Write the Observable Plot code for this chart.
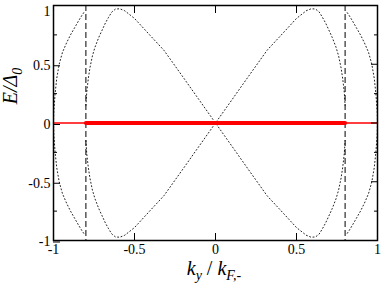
<!DOCTYPE html>
<html><head><meta charset="utf-8">
<script src="https://cdn.jsdelivr.net/npm/d3@7"></script>
<script src="https://cdn.jsdelivr.net/npm/@observablehq/plot@0.6"></script>
<style>body{margin:0;background:#fff}#chart{width:382px;height:285px}
#chart svg text{font-family:"Liberation Serif","Times New Roman","DejaVu Serif",serif}</style>
</head><body><div id="chart"></div><script>
// tick values
const xTicks = [-1, -0.5, 0, 0.5, 1];
const yTicks = [-1, -0.5, 0, 0.5];
const yTopTick = [1];
const yAllTicks = [-1, -0.5, 0, 0.5, 1];
const yMinorTicks = [-0.75, -0.25, 0.25, 0.75];
// dashed verticals
const dashedX = [-0.8, 0.8];
// red zero-energy lines
const redThinX = [-1, 1];
const redThinY = [0, 0];
const redThickX = [-0.8, 0.8];
const redThickY = [0, 0];
// dotted branches
const leftUpperX = [-1, -0.998, -0.99, -0.98, -0.965, -0.945, -0.92, -0.895, -0.87, -0.845, -0.825, -0.808];
const leftUpperY = [0, 0.1, 0.25, 0.38, 0.5, 0.6, 0.68, 0.75, 0.81, 0.87, 0.915, 0.95];
const leftLowerX = [-1, -0.998, -0.99, -0.98, -0.965, -0.945, -0.92, -0.895, -0.87, -0.845, -0.825, -0.808];
const leftLowerY = [0, -0.1, -0.25, -0.38, -0.5, -0.6, -0.68, -0.75, -0.81, -0.87, -0.915, -0.95];
const rightUpperX = [1, 0.998, 0.99, 0.98, 0.965, 0.945, 0.92, 0.895, 0.87, 0.845, 0.825, 0.808];
const rightUpperY = [0, 0.1, 0.25, 0.38, 0.5, 0.6, 0.68, 0.75, 0.81, 0.87, 0.915, 0.95];
const rightLowerX = [1, 0.998, 0.99, 0.98, 0.965, 0.945, 0.92, 0.895, 0.87, 0.845, 0.825, 0.808];
const rightLowerY = [0, -0.1, -0.25, -0.38, -0.5, -0.6, -0.68, -0.75, -0.81, -0.87, -0.915, -0.95];
const branchAX = [-0.8, -0.795, -0.785, -0.775, -0.76, -0.744, -0.72, -0.7, -0.68, -0.66, -0.64, -0.617, -0.59, -0.56, -0.5, -0.4, -0.319, -0.2, -0.113, 0,
                  0.113, 0.2, 0.319, 0.4, 0.5, 0.56, 0.59, 0.617, 0.64, 0.66, 0.68, 0.7, 0.72, 0.744, 0.76, 0.775, 0.785, 0.795, 0.8];
const branchAY = [0.15, 0.26, 0.38, 0.47, 0.57, 0.645, 0.73, 0.79, 0.85, 0.9, 0.945, 0.97, 0.972, 0.955, 0.89, 0.74, 0.62, 0.39, 0.22, 0,
                  -0.22, -0.39, -0.62, -0.74, -0.89, -0.955, -0.972, -0.97, -0.945, -0.9, -0.85, -0.79, -0.73, -0.645, -0.57, -0.47, -0.38, -0.26, -0.15];
const branchBX = [-0.8, -0.795, -0.785, -0.775, -0.76, -0.744, -0.72, -0.7, -0.68, -0.66, -0.64, -0.617, -0.59, -0.56, -0.5, -0.4, -0.319, -0.2, -0.113, 0,
                  0.113, 0.2, 0.319, 0.4, 0.5, 0.56, 0.59, 0.617, 0.64, 0.66, 0.68, 0.7, 0.72, 0.744, 0.76, 0.775, 0.785, 0.795, 0.8];
const branchBY = [-0.15, -0.26, -0.38, -0.47, -0.57, -0.645, -0.73, -0.79, -0.85, -0.9, -0.945, -0.97, -0.972, -0.955, -0.89, -0.74, -0.62, -0.39, -0.22, 0,
                  0.22, 0.39, 0.62, 0.74, 0.89, 0.955, 0.972, 0.97, 0.945, 0.9, 0.85, 0.79, 0.73, 0.645, 0.57, 0.47, 0.38, 0.26, 0.15];

const toRows = (xs, ys) => xs.map((x, i) => ({x, y: ys[i]}));
const curves = [
  toRows(leftUpperX, leftUpperY), toRows(leftLowerX, leftLowerY),
  toRows(rightUpperX, rightUpperY), toRows(rightLowerX, rightLowerY),
  toRows(branchAX, branchAY), toRows(branchBX, branchBY)
];
const fmt = d => String(d);
const serif = "'Liberation Serif', 'Times New Roman', 'DejaVu Serif', serif";

const plot = Plot.plot({
  width: 382, height: 285,
  marginLeft: 53, marginRight: 5, marginTop: 5, marginBottom: 45,
  x: {domain: [-1, 1]},
  y: {domain: [-1, 1]},
  style: {fontFamily: serif, fontSize: "14px", color: "black", background: "white"},
  marks: [
    ...curves.map(c => Plot.line(c, {x: "x", y: "y", stroke: "#222", strokeWidth: 1, strokeDasharray: "1,2.5"})),
    Plot.ruleX(dashedX, {stroke: "black", strokeWidth: 1, strokeDasharray: "6,3"}),
    Plot.line(toRows(redThinX, redThinY), {x: "x", y: "y", stroke: "#ff0000", strokeWidth: 1.5}),
    Plot.line(toRows(redThickX, redThickY), {x: "x", y: "y", stroke: "#ff0000", strokeWidth: 4}),
    Plot.frame({stroke: "black", strokeWidth: 1.5}),
    Plot.axisX(xTicks, {anchor: "bottom", tickSize: -7, tickPadding: 11, tickFormat: fmt, label: null, fill: "black"}),
    Plot.axisX(xTicks, {anchor: "top", tickSize: -7, tickFormat: () => "", label: null}),
    Plot.axisY(yTicks, {anchor: "left", tickSize: -7, tickPadding: 10, tickFormat: fmt, label: null, fill: "black", dy: 1.5}),
    Plot.axisY(yTopTick, {anchor: "left", tickSize: 0, tickPadding: 3, tickFormat: fmt, label: null, fill: "black", dy: 6}),
    Plot.axisY(yAllTicks, {anchor: "right", tickSize: -7, tickFormat: () => "", label: null}),
    Plot.axisY(yMinorTicks, {anchor: "left", tickSize: -4, tickFormat: () => "", label: null}),
    Plot.axisY(yMinorTicks, {anchor: "right", tickSize: -4, tickFormat: () => "", label: null})
  ]
});
document.getElementById("chart").appendChild(plot);

const svg = d3.select(plot);
// y title: E/Δ0
const yt = svg.append("text")
  .attr("transform", "translate(17,86) rotate(-90)")
  .attr("text-anchor", "middle")
  .attr("font-family", serif)
  .attr("font-size", 20)
  .attr("fill", "black");
yt.append("tspan").attr("font-style", "italic").text("E");
yt.append("tspan").attr("font-style", "italic").text("/Δ");
yt.append("tspan").attr("font-style", "italic").attr("font-size", 14).attr("dy", 5).text("0");
// x title: k_y / k_F,-
const xt = svg.append("text")
  .attr("x", 214).attr("y", 275)
  .attr("text-anchor", "middle")
  .attr("font-family", serif)
  .attr("font-size", 20)
  .attr("fill", "black");
xt.append("tspan").attr("font-style", "italic").text("k");
xt.append("tspan").attr("font-style", "italic").attr("font-size", 14).attr("dy", 5).text("y");
xt.append("tspan").attr("dy", -5).text(" / ");
xt.append("tspan").attr("font-style", "italic").text("k");
xt.append("tspan").attr("font-style", "italic").attr("font-size", 14).attr("dy", 5).text("F,-");
</script></body></html>
